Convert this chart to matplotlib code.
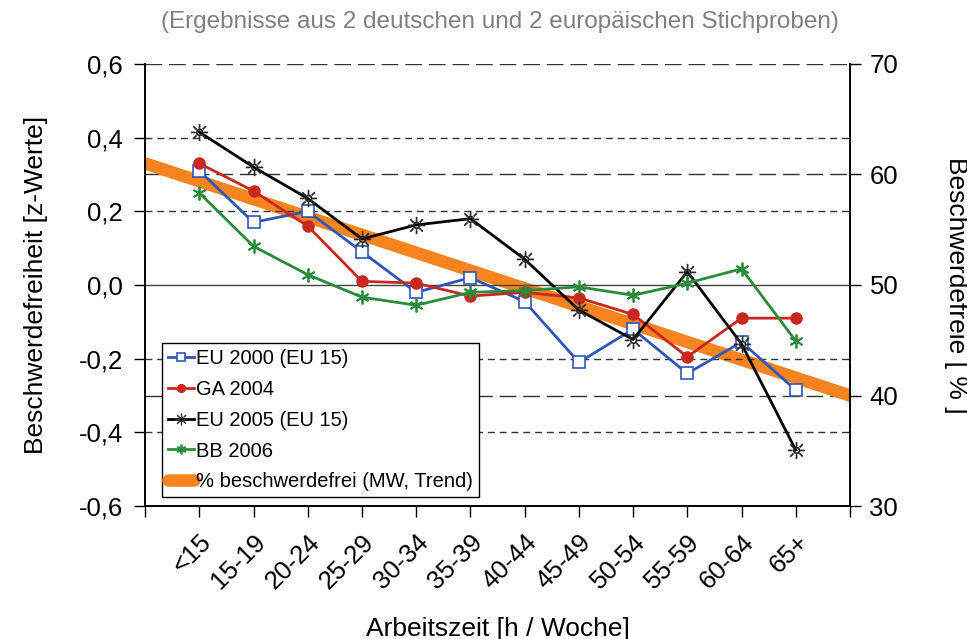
import numpy as np
import matplotlib.pyplot as plt

plt.rcParams['font.family'] = ['Liberation Sans', 'DejaVu Sans']

hours = ['<15', '15-19', '20-24', '25-29', '30-34', '35-39',
         '40-44', '45-49', '50-54', '55-59', '60-64', '65+']

# z-values per working-time band
eu2000 = [0.31, 0.17, 0.20, 0.09, -0.02, 0.02, -0.045, -0.21, -0.12, -0.24, -0.155, -0.285]
ga2004 = [0.33, 0.255, 0.16, 0.01, 0.005, -0.03, -0.02, -0.035, -0.08, -0.195, -0.09, -0.09]
eu2005 = [0.415, 0.32, 0.235, 0.125, 0.163, 0.18, 0.07, -0.068, -0.148, 0.036, -0.16, -0.448]
bb2006 = [0.25, 0.105, 0.028, -0.033, -0.055, -0.02, -0.015, -0.005, -0.028, 0.005, 0.044, -0.152]

# trend of "% beschwerdefrei" (right axis), spanning the full x range
trend_x = [0, 13]
trend_pct = [61.0, 40.0]

x = np.arange(1, len(hours) + 1)

fig = plt.figure(figsize=(9.67, 6.39), dpi=100)
ax = fig.add_axes([0.150, 0.208, 0.729, 0.692])
ax2 = ax.twinx()

# orange trend sits behind the series
ax.set_zorder(ax2.get_zorder() + 1)
ax.patch.set_visible(False)

trend, = ax2.plot(trend_x, trend_pct, color='#f7841e', lw=9,
                  solid_capstyle='round', label='% beschwerdefrei (MW, Trend)')

l1, = ax.plot(x, eu2000, color='#3056b8', lw=2, marker='s', ms=8,
              mfc='white', mec='#3056b8', mew=1.2, label='EU 2000 (EU 15)')
l2, = ax.plot(x, ga2004, color='#c8281f', lw=2, marker='o', ms=8,
              label='GA 2004')
l3, = ax.plot(x, eu2005, color='black', lw=2, marker='$☼$', ms=12,
              mec='#333333', mew=0.5, label='EU 2005 (EU 15)')
l4, = ax.plot(x, bb2006, color='#2a8c3a', lw=2, marker=(6, 2, 0), ms=10,
              mew=1.3, label='BB 2006')

# grid lines
for yv in [0.4, 0.2, -0.2, -0.4]:
    ax.axhline(yv, color='#333333', lw=1, ls=(0, (5, 3.5)), zorder=0.5)
ax.axhline(0, color='#444444', lw=1, zorder=0.5)
for yv in [70, 60, 40]:
    ax2.axhline(yv, color='#333333', lw=1, ls=(0, (12, 5)), zorder=0.5)

ax.set_xlim(0, 13)
ax.set_ylim(-0.6, 0.6)
ax2.set_ylim(30, 70)

ax.set_xticks(np.arange(0, 14))
ax.set_xticklabels([''] + hours + [''], rotation=45, ha='right',
                   rotation_mode='anchor', fontsize=18.5)
yt = np.arange(-0.6, 0.61, 0.2)
ax.set_yticks(yt)
ax.set_yticklabels([f'{v:.1f}'.replace('.', ',').replace('-0,0', '0,0')
                    for v in yt], fontsize=18.5)
ax2.set_yticks([30, 40, 50, 60, 70])
ax2.tick_params(axis='y', labelsize=18.5, length=8, width=1, pad=6)
ax.tick_params(axis='y', length=8, width=1, pad=8)
ax.tick_params(axis='x', length=8, width=1, pad=9)

for a in (ax, ax2):
    a.spines['top'].set_visible(False)
    for s in ('left', 'right', 'bottom'):
        a.spines[s].set_linewidth(1.2)

ax.set_xlabel('Arbeitszeit [h / Woche]', fontsize=19, labelpad=17)
ax.set_ylabel('Beschwerdefreiheit [z-Werte]', fontsize=19, labelpad=22)
ax2.set_ylabel('Beschwerdefreie [ % ]', fontsize=19, rotation=-90, labelpad=50)

fig.text(0.517, 0.966, '(Ergebnisse aus 2 deutschen und 2 europäischen Stichproben)',
         ha='center', va='center', fontsize=17.5, color='#808080')

leg = ax.legend(handles=[l1, l2, l3, l4, trend], loc='lower left',
                bbox_to_anchor=(0.024, 0.02), fontsize=14.5, frameon=True,
                fancybox=False, edgecolor='black', framealpha=1,
                handlelength=1.3, handletextpad=0.1, borderpad=0.3,
                labelspacing=0.58, borderaxespad=0, markerscale=0.7)
leg.get_frame().set_linewidth(1)

fig.savefig('out.png', dpi=100)
